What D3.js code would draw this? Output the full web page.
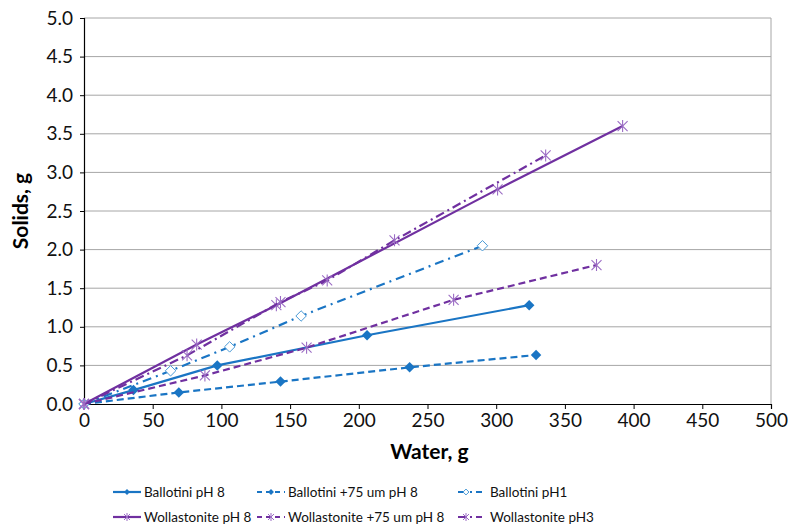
<!DOCTYPE html>
<html>
<head>
<meta charset="utf-8">
<script src="https://cdn.jsdelivr.net/npm/d3@7"></script>
<style>
  body { margin: 0; background: #fff; }
  text { font-family: Lato, "Open Sans", sans-serif; }
</style>
</head>
<body>
<div id="drawing"></div>
<script>
var width = 788;
var height = 527;
var margin = {top: 18, right: 17, bottom: 123, left: 84};
var plotW = width - margin.left - margin.right;
var plotH = height - margin.top - margin.bottom;

var xTicks = [0, 50, 100, 150, 200, 250, 300, 350, 400, 450, 500];
var yTicks = [0, 0.5, 1.0, 1.5, 2.0, 2.5, 3.0, 3.5, 4.0, 4.5, 5.0];

var seriesNames = ["Ballotini pH 8", "Ballotini +75 um pH 8", "Ballotini pH1",
                   "Wollastonite pH 8", "Wollastonite +75 um pH 8", "Wollastonite pH3"];

var ballotiniPh8 = [[0, 0], [36, 0.18], [97, 0.50], [206, 0.89], [324, 1.28]];
var ballotini75 = [[0, 0], [69, 0.15], [143, 0.29], [237, 0.475], [329, 0.635]];
var ballotiniPh1 = [[0, 0], [63, 0.43], [106, 0.74], [158, 1.14], [290, 2.05]];
var wollastonitePh8 = [[0, 0], [82, 0.77], [140, 1.28], [301, 2.78], [392, 3.6]];
var wollastonite75 = [[0, 0], [88, 0.37], [162, 0.73], [269, 1.35], [373, 1.8]];
var wollastonitePh3 = [[0, 0], [75, 0.63], [143, 1.32], [177, 1.6], [226, 2.12], [336, 3.22]];

var blue = "#1a75c4";
var purple = "#7030a0";

var series = [
  {name: seriesNames[0], data: ballotiniPh8, color: blue, dash: null, marker: "diamond"},
  {name: seriesNames[1], data: ballotini75, color: blue, dash: "7,4", marker: "diamond"},
  {name: seriesNames[2], data: ballotiniPh1, color: blue, dash: "9,5,2,5", marker: "openDiamond"},
  {name: seriesNames[3], data: wollastonitePh8, color: purple, dash: null, marker: "star"},
  {name: seriesNames[4], data: wollastonite75, color: purple, dash: "7,4", marker: "star"},
  {name: seriesNames[5], data: wollastonitePh3, color: purple, dash: "9,4,2,4", marker: "star"}
];

var svg = d3.select("#drawing").append("svg")
  .attr("width", width)
  .attr("height", height);

var g = svg.append("g")
  .attr("transform", `translate(${margin.left}, ${margin.top})`);

var xScale = d3.scaleLinear().domain([0, 500]).range([0, plotW]);
var yScale = d3.scaleLinear().domain([0, 5]).range([plotH, 0]);

// grid
g.selectAll(".grid")
  .data(yTicks.filter(d => d > 0))
  .enter().append("line")
  .attr("x1", 0).attr("x2", plotW)
  .attr("y1", d => yScale(d)).attr("y2", d => yScale(d))
  .style("stroke", "#a6a6a6")
  .style("stroke-width", 1);

// right border
g.append("line")
  .attr("x1", plotW).attr("x2", plotW)
  .attr("y1", 0).attr("y2", plotH)
  .style("stroke", "#a6a6a6");

var xAxis = g.append("g")
  .attr("transform", `translate(0, ${plotH})`)
  .call(d3.axisBottom(xScale).tickValues(xTicks).tickSize(5).tickPadding(5).tickFormat(d3.format("d")));

var yAxis = g.append("g")
  .call(d3.axisLeft(yScale).tickValues(yTicks).tickSize(4).tickPadding(7).tickFormat(d3.format(".1f")));

[xAxis, yAxis].forEach(function(ax) {
  ax.select(".domain").style("stroke", "#000").style("stroke-width", 1.2);
  ax.selectAll(".tick line").style("stroke", "#000");
  ax.selectAll("text").style("font-size", "19px").style("fill", "#111")
    .style("font-family", "Lato, sans-serif");
});

var line = d3.line()
  .x(d => xScale(d[0]))
  .y(d => yScale(d[1]));

function drawMarker(sel, type, color) {
  if (type === "diamond") {
    sel.append("path")
      .attr("d", d3.symbol().type(d3.symbolDiamond2).size(70))
      .style("fill", color);
  } else if (type === "openDiamond") {
    sel.append("path")
      .attr("d", d3.symbol().type(d3.symbolDiamond2).size(70))
      .style("fill", "#fff")
      .style("stroke", "#4a9ad6")
      .style("stroke-width", 1);
  } else {
    sel.append("path")
      .attr("d", "M-5,-5L5,5M-5,5L5,-5M0,-6L0,6")
      .style("fill", "none")
      .style("stroke", "#9b6cc4")
      .style("stroke-width", 1.1);
  }
}

series.forEach(function(s) {
  g.append("path")
    .attr("d", line(s.data))
    .style("fill", "none")
    .style("stroke", s.color)
    .style("stroke-width", 2.2)
    .style("stroke-dasharray", s.dash);

  g.selectAll(null)
    .data(s.data)
    .enter().append("g")
    .attr("transform", d => `translate(${xScale(d[0])}, ${yScale(d[1])})`)
    .each(function() { drawMarker(d3.select(this), s.marker, s.color); });
});

// axis titles
svg.append("text")
  .attr("x", margin.left + xScale(250) + 2)
  .attr("y", 459)
  .attr("text-anchor", "middle")
  .style("font-size", "21px")
  .style("font-weight", "bold")
  .text("Water, g");

svg.append("text")
  .attr("transform", `translate(28, ${margin.top + yScale(2.5)}) rotate(-90)`)
  .attr("text-anchor", "middle")
  .style("font-size", "21px")
  .style("font-weight", "bold")
  .text("Solids, g");

// legend
var legendCols = [113, 257, 458];
var legendRows = [492, 517];
var legend = svg.append("g");
series.forEach(function(s, i) {
  var col = i % 3;
  var row = Math.floor(i / 3);
  var lg = legend.append("g")
    .attr("transform", `translate(${legendCols[col]}, ${legendRows[row]})`);
  var sampleW = col === 2 ? 24 : 28;
  lg.append("line")
    .attr("x1", 0).attr("x2", sampleW)
    .attr("y1", 0).attr("y2", 0)
    .style("stroke", s.color)
    .style("stroke-width", 2.2)
    .style("stroke-dasharray", s.dash ? (col === 2 ? "8,4,2,4" : "5,4") : null);
  var m = lg.append("g").attr("transform", `translate(${sampleW / 2 - (col === 2 ? 4 : 0)}, 0)`);
  if (s.marker === "star") {
    m.append("path")
      .attr("d", "M-3,-3L3,3M-3,3L3,-3M0,-4L0,4")
      .style("stroke", "#9b6cc4").style("fill", "none");
  } else {
    m.append("path")
      .attr("d", d3.symbol().type(d3.symbolDiamond2).size(22))
      .style("fill", s.marker === "openDiamond" ? "#fff" : s.color)
      .style("stroke", s.marker === "openDiamond" ? "#4a9ad6" : "none");
  }
  lg.append("text")
    .attr("x", sampleW + (col === 2 ? 8 : 3))
    .attr("y", 5)
    .style("font-size", "13.5px")
    .style("fill", "#111")
    .text(s.name);
});
</script>
</body>
</html>
